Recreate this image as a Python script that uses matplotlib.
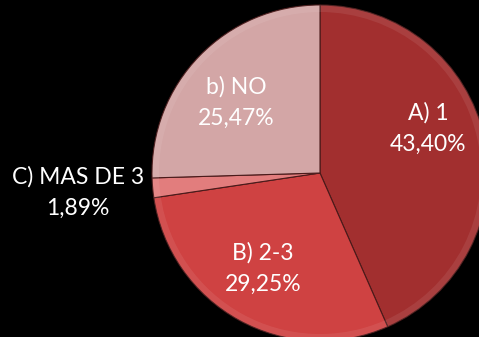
import matplotlib
matplotlib.use('Agg')
import matplotlib.pyplot as plt

labels = ['A) 1', 'B) 2-3', 'C) MAS DE 3', 'b) NO']
values = [43.40, 29.25, 1.89, 25.47]
pct_text = ['43,40%', '29,25%', '1,89%', '25,47%']
colors = ['#a22f2f', '#cf4242', '#e27d7d', '#d3a6a6']

# label centres in pixels (x, y from top)
label_pos = [(428, 128), (263, 268), (78, 192), (236, 102)]

W, H = 479, 337
fig = plt.figure(figsize=(W / 100, H / 100), dpi=100, facecolor='black')
ax = fig.add_axes([0, 0, 1, 1])
ax.set_facecolor('black')
ax.set_xlim(0, W)
ax.set_ylim(0, H)
ax.set_aspect('equal')
ax.axis('off')

ax.pie(values, colors=colors, startangle=90, counterclock=False,
       center=(320, H - 173), radius=168,
       wedgeprops=dict(edgecolor='#4a1a1a', linewidth=0.8))
# soft bevel highlight along the rim
ax.pie(values, colors=['white'] * 4, startangle=90, counterclock=False,
       center=(320, H - 173), radius=168,
       wedgeprops=dict(width=7, alpha=0.08, linewidth=0))
ax.set_xlim(0, W)
ax.set_ylim(0, H)

for lab, pct, (x, y) in zip(labels, pct_text, label_pos):
    ax.text(x, H - y, lab + '\n' + pct, color='white', fontsize=16.5,
            family='Lato', ha='center', va='center', linespacing=1.6)

fig.savefig('out.png', dpi=100, facecolor='black')
